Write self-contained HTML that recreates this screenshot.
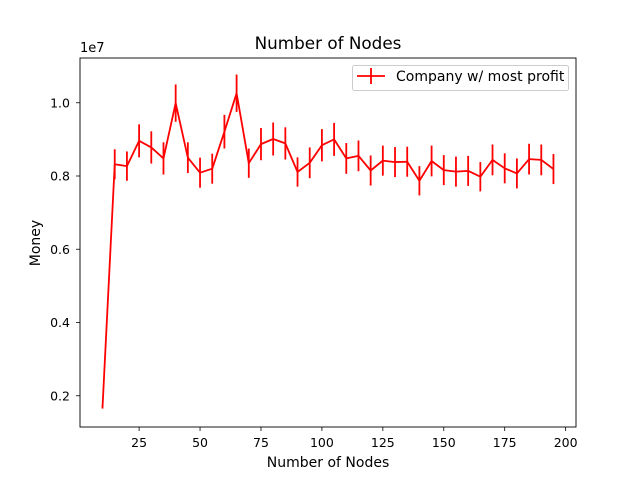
<!DOCTYPE html>
<html><head><meta charset="utf-8"><style>
body{margin:0;background:#fff;font-family:"Liberation Sans","DejaVu Sans",sans-serif}
text{font-family:"DejaVu Sans","Liberation Sans",sans-serif}
</style></head><body>
<svg id="chart" width="640" height="480" xmlns="http://www.w3.org/2000/svg"></svg>
<script>
const xs=[10,15,20,25,30,35,40,45,50,55,60,65,70,75,80,85,90,95,100,105,110,115,120,125,130,135,140,145,150,155,160,165,170,175,180,185,190,195];
const vals=[0.17,0.832,0.827,0.896,0.878,0.848,0.999,0.85,0.809,0.82,0.921,1.026,0.835,0.887,0.901,0.889,0.811,0.836,0.884,0.900,0.848,0.855,0.815,0.842,0.838,0.839,0.787,0.841,0.816,0.812,0.814,0.798,0.844,0.821,0.807,0.846,0.844,0.819];
const errs=[0.005,0.041,0.040,0.045,0.044,0.044,0.051,0.042,0.041,0.041,0.046,0.051,0.040,0.044,0.045,0.044,0.040,0.042,0.044,0.045,0.042,0.042,0.041,0.041,0.041,0.041,0.040,0.042,0.041,0.041,0.041,0.040,0.042,0.041,0.041,0.042,0.042,0.041];
const xTicks=[25,50,75,100,125,150,175,200];
const yTicks=[0.2,0.4,0.6,0.8,1.0];
const L=80,R=576,T=58,B=427;
const xMin=0.75,xMax=204.25;
function X(v){return L+(v-xMin)/(xMax-xMin)*(R-L);}
function Y(v){return 176+(0.8-v)*366.25;}
const svg=document.getElementById('chart');
const NS='http://www.w3.org/2000/svg';
function mk(tag,attrs,txt){const e=document.createElementNS(NS,tag);for(const k in attrs)e.setAttribute(k,attrs[k]);if(txt!==undefined)e.textContent=txt;svg.appendChild(e);return e;}
let e=mk('rect',{x:0,y:0,width:640,height:480,fill:'#fff'});


xTicks.forEach(t=>{const x=X(t);
 let l=mk('line',{x1:x,x2:x,y1:B,y2:B+4,stroke:'#000','stroke-width':0.8});
 
 
 let tx=mk('text',{x:x,y:B+20,'font-size':12.5,'text-anchor':'middle'},String(t));
 
 
});
yTicks.forEach(t=>{const y=Y(t);
 let l=mk('line',{x1:L-4,x2:L,y1:y,y2:y,stroke:'#000','stroke-width':0.8});
 
 
 let tx=mk('text',{x:L-10,y:y+4.5,'font-size':12.5,'text-anchor':'end'},t.toFixed(1));
 
 
});
xs.forEach((x,i)=>{
 let l=mk('line',{x1:X(x),x2:X(x),y1:Y(vals[i]-errs[i]),y2:Y(vals[i]+errs[i]),stroke:'#f00','stroke-width':1.8});
 
 
});
let p=mk('polyline',{points:xs.map((x,i)=>X(x)+','+Y(vals[i])).join(' '),fill:'none',stroke:'#f00','stroke-width':1.8,'stroke-linejoin':'round'});


let fr=mk('rect',{x:L,y:T,width:R-L,height:B-T,fill:'none',stroke:'#000','stroke-width':0.9});


let t1=mk('text',{x:328,y:49,'font-size':16.8,'text-anchor':'middle'},'Number of Nodes');


let t2=mk('text',{x:328,y:467,'font-size':14,'text-anchor':'middle'},'Number of Nodes');


let t3=mk('text',{x:40,y:243,'font-size':14,'text-anchor':'middle',transform:'rotate(-90 40 243)'},'Money');


let t4=mk('text',{x:80,y:52,'font-size':13},'1e7');


let lg=mk('rect',{x:352.5,y:65.5,width:216,height:25,rx:2,fill:'#fff',stroke:'#ccc','stroke-width':1});


let ll=mk('line',{x1:357,x2:385,y1:76,y2:76,stroke:'#f00','stroke-width':1.8});


let lv=mk('line',{x1:371,x2:371,y1:68,y2:84,stroke:'#f00','stroke-width':1.8});


let lt=mk('text',{x:396,y:81,'font-size':14},'Company w/ most profit');


</script>
</body></html>
